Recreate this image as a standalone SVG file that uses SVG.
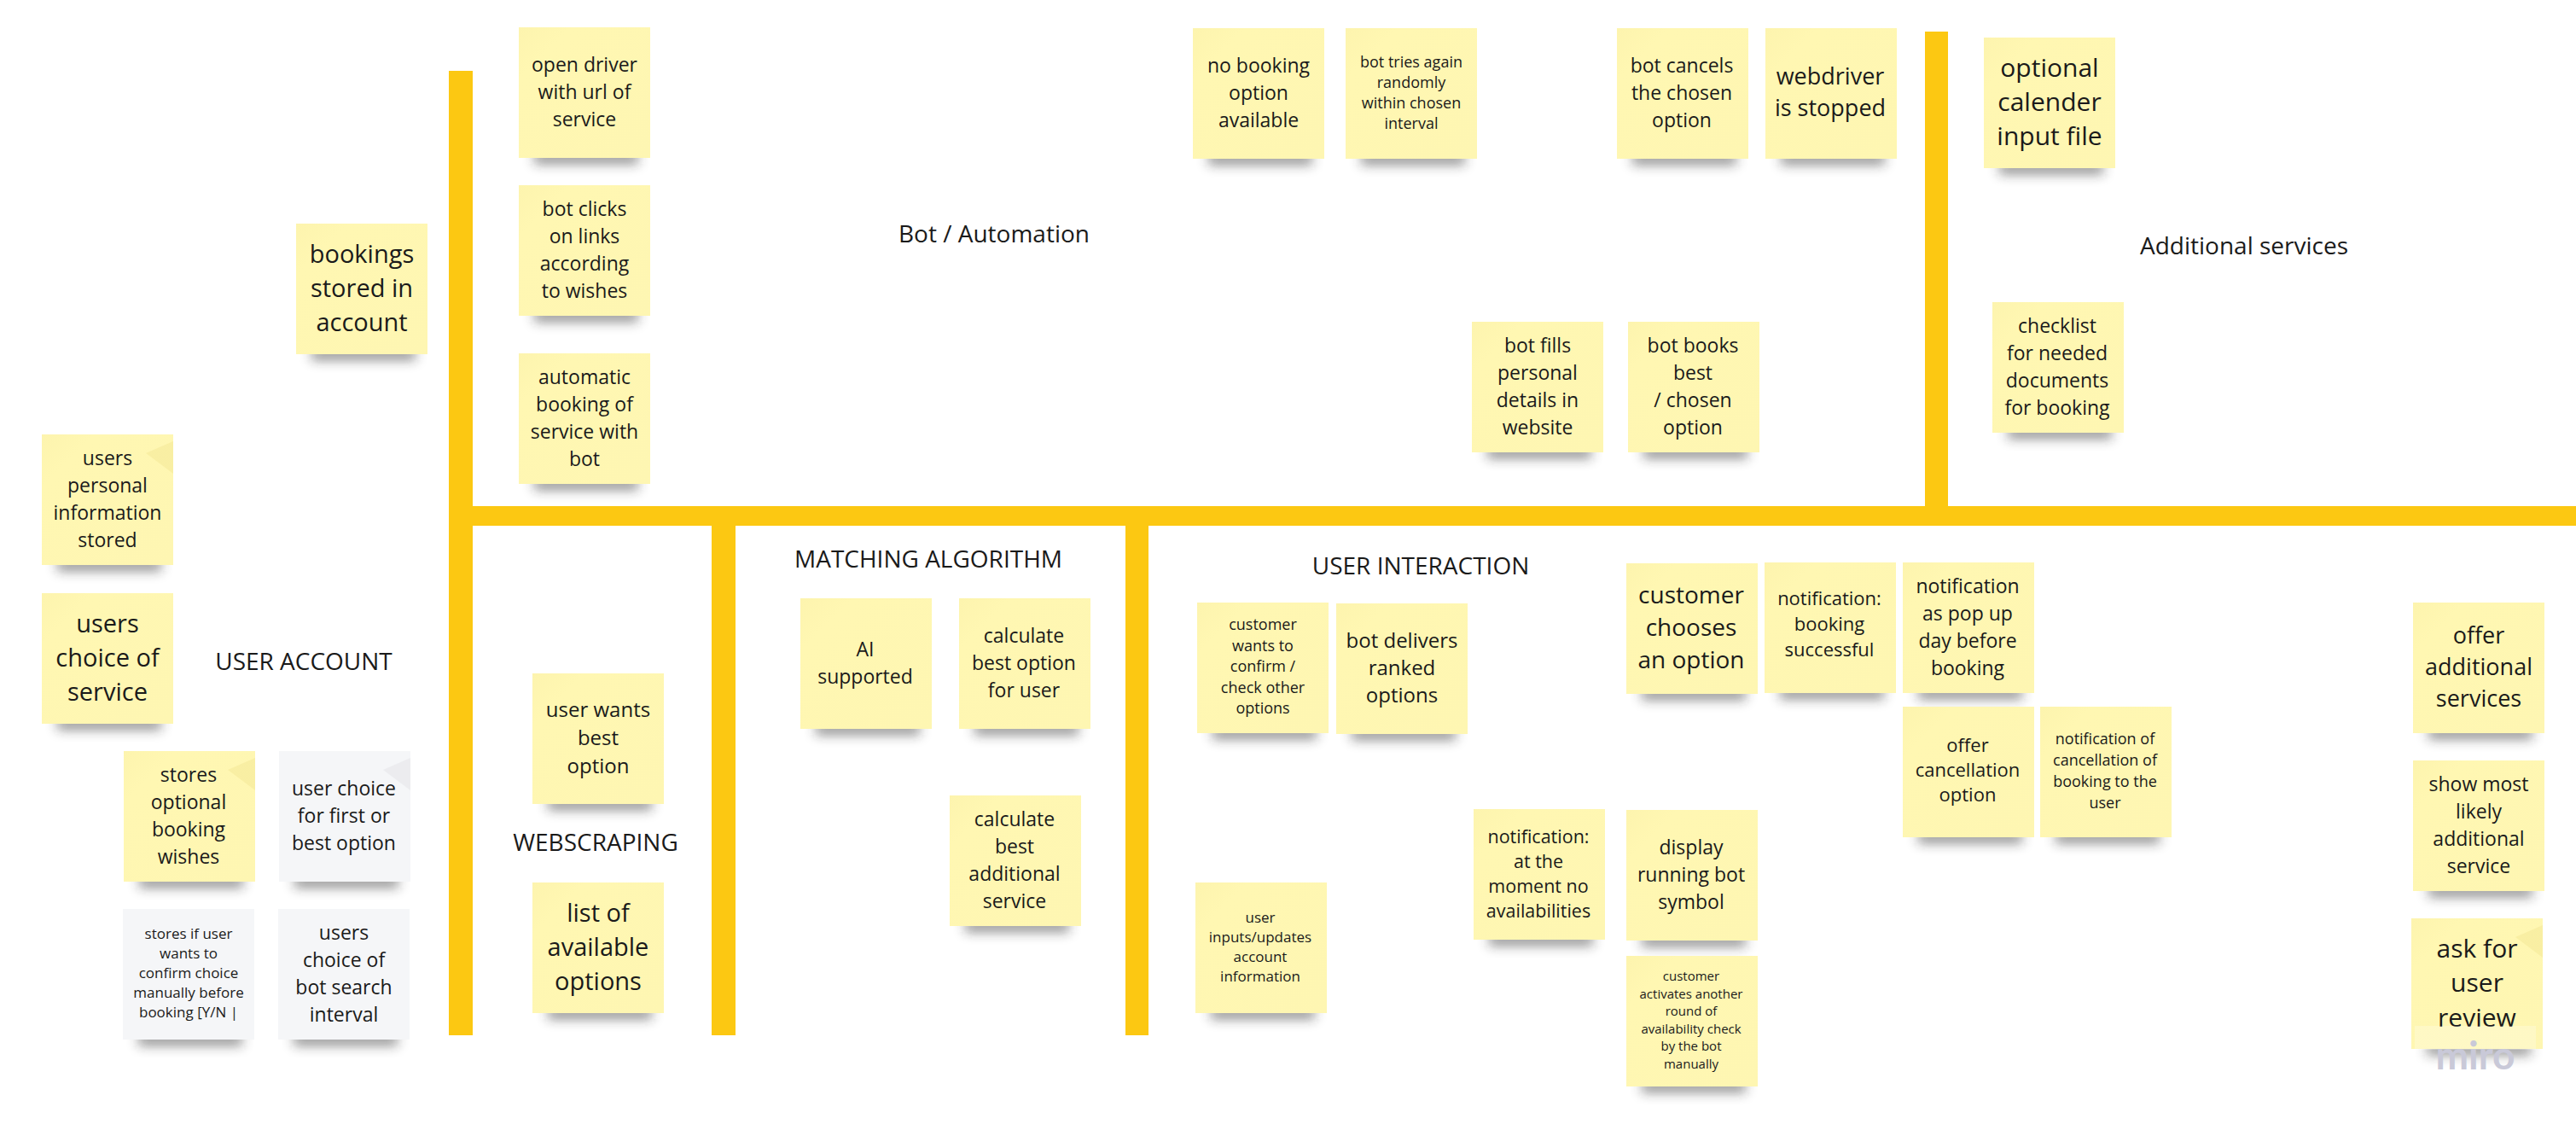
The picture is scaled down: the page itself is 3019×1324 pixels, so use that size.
<svg xmlns="http://www.w3.org/2000/svg" width="3019" height="1324" viewBox="0 0 3019 1324">
<style>
text{font-family:"Open Sans","Noto Sans",sans-serif;fill:#1a1a1a;text-anchor:middle}
g[id^="n"] text{transform:translateY(-1.5px)}
.bar{fill:#fcc812}
.s15{font-size:15px}.s17{font-size:17px}.s18{font-size:18px}.s21{font-size:21.5px}.s22{font-size:22px}.s23{font-size:23px}.s24{font-size:24px}.s27{font-size:27px}.s28{font-size:28px}.s29{font-size:29px}.s30{font-size:30px}
.label{font-size:28px}
</style>
<defs>
<filter id="b" x="-30%" y="-300%" width="160%" height="700%"><feGaussianBlur stdDeviation="7"/></filter>
<linearGradient id="gy" x1="0" y1="0" x2="1" y2="1"><stop offset="0" stop-color="#fdf4ae"/><stop offset=".2" stop-color="#fff7b2"/><stop offset="1" stop-color="#fef6b2"/></linearGradient>
<g id="shadow"><rect x="18" y="146" width="122" height="14" fill="#222" opacity=".5" filter="url(#b)"/></g>
<g id="ny"><use href="#shadow"/><rect width="154" height="153" fill="url(#gy)"/></g>
<g id="ng"><use href="#shadow"/><rect width="154" height="153" fill="#f5f6f8"/></g>
<polygon id="foldy" points="154,8 154,46 122,22" fill="#e8d878" opacity=".25"/>
<polygon id="foldg" points="154,8 154,46 122,22" fill="#c8c8cc" opacity=".2"/>
</defs>
<rect width="3019" height="1324" fill="#fff"/>
<g id="connectors">
<rect class="bar" x="526" y="83" width="28" height="1130"/>
<rect class="bar" x="526" y="593" width="2493" height="23"/>
<rect class="bar" x="2256" y="37" width="27" height="556"/>
<rect class="bar" x="834" y="616" width="28" height="597"/>
<rect class="bar" x="1319" y="616" width="27" height="597"/>
</g>
<g id="titles">
<text class="label" x="356" y="785">USER ACCOUNT</text>
<text class="label" x="1165" y="284">Bot / Automation</text>
<text class="label" x="2630" y="298">Additional services</text>
<text class="label" x="1088" y="665">MATCHING ALGORITHM</text>
<text class="label" x="1665" y="673">USER INTERACTION</text>
<text class="label" x="698" y="997">WEBSCRAPING</text>
</g>
<g id="n1" transform="translate(49,509)"><use href="#ny"/><use href="#foldy"/><text class="s23" x="77"><tspan x="77" y="37.9">users</tspan><tspan x="77" y="69.9">personal</tspan><tspan x="77" y="101.9">information</tspan><tspan x="77" y="133.9">stored</tspan></text></g>
<g id="n2" transform="translate(49,695)"><use href="#ny"/><text class="s29"><tspan x="77" y="47">users</tspan><tspan x="77" y="87">choice of</tspan><tspan x="77" y="127">service</tspan></text></g>
<g id="n3" transform="translate(145,880)"><use href="#ny"/><use href="#foldy"/><text class="s23"><tspan x="76" y="37.9">stores</tspan><tspan x="76" y="69.9">optional</tspan><tspan x="76" y="101.9">booking</tspan><tspan x="76" y="133.9">wishes</tspan></text></g>
<g id="n4" transform="translate(327,880)"><use href="#ng"/><use href="#foldg"/><text class="s23"><tspan x="76" y="53.9">user choice</tspan><tspan x="76" y="85.9">for first or</tspan><tspan x="76" y="117.9">best option</tspan></text></g>
<g id="n5" transform="translate(144,1065)"><use href="#ng"/><text class="s17"><tspan x="77" y="36.5">stores if user</tspan><tspan x="77" y="59.5">wants to</tspan><tspan x="77" y="82.5">confirm choice</tspan><tspan x="77" y="105.5">manually before</tspan><tspan x="77" y="128.5">booking [Y/N |</tspan></text></g>
<g id="n6" transform="translate(326,1065)"><use href="#ng"/><text class="s23"><tspan x="77" y="37.9">users</tspan><tspan x="77" y="69.9">choice of</tspan><tspan x="77" y="101.9">bot search</tspan><tspan x="77" y="133.9">interval</tspan></text></g>
<g id="n7" transform="translate(347,262)"><use href="#ny"/><text class="s29"><tspan x="77" y="47">bookings</tspan><tspan x="77" y="87">stored in</tspan><tspan x="77" y="127">account</tspan></text></g>
<g id="n8" transform="translate(608,32)"><use href="#ny"/><text class="s23"><tspan x="77" y="53.9">open driver</tspan><tspan x="77" y="85.9">with url of</tspan><tspan x="77" y="117.9">service</tspan></text></g>
<g id="n9" transform="translate(608,217)"><use href="#ny"/><text class="s23"><tspan x="77" y="37.9">bot clicks</tspan><tspan x="77" y="69.9">on links</tspan><tspan x="77" y="101.9">according</tspan><tspan x="77" y="133.9">to wishes</tspan></text></g>
<g id="n10" transform="translate(608,414)"><use href="#ny"/><text class="s23"><tspan x="77" y="37.9">automatic</tspan><tspan x="77" y="69.9">booking of</tspan><tspan x="77" y="101.9">service with</tspan><tspan x="77" y="133.9">bot</tspan></text></g>
<g id="n11" transform="translate(1398,33)"><use href="#ny"/><text class="s23"><tspan x="77" y="53.9">no booking</tspan><tspan x="77" y="85.9">option</tspan><tspan x="77" y="117.9">available</tspan></text></g>
<g id="n12" transform="translate(1577,33)"><use href="#ny"/><text class="s18"><tspan x="77" y="47.5">bot tries again</tspan><tspan x="77" y="71.5">randomly</tspan><tspan x="77" y="95.5">within chosen</tspan><tspan x="77" y="119.5">interval</tspan></text></g>
<g id="n13" transform="translate(1895,33)"><use href="#ny"/><text class="s23"><tspan x="76" y="53.9">bot cancels</tspan><tspan x="76" y="85.9">the chosen</tspan><tspan x="76" y="117.9">option</tspan></text></g>
<g id="n14" transform="translate(2069,33)"><use href="#ny"/><text class="s27"><tspan x="76" y="67">webdriver</tspan><tspan x="76" y="104">is stopped</tspan></text></g>
<g id="n15" transform="translate(2325,44)"><use href="#ny"/><text class="s30"><tspan x="77" y="47">optional</tspan><tspan x="77" y="87">calender</tspan><tspan x="77" y="127">input file</tspan></text></g>
<g id="n16" transform="translate(2335,354)"><use href="#ny"/><text class="s23"><tspan x="76" y="37.9">checklist</tspan><tspan x="76" y="69.9">for needed</tspan><tspan x="76" y="101.9">documents</tspan><tspan x="76" y="133.9">for booking</tspan></text></g>
<g id="n17" transform="translate(1725,377)"><use href="#ny"/><text class="s23"><tspan x="77" y="37.9">bot fills</tspan><tspan x="77" y="69.9">personal</tspan><tspan x="77" y="101.9">details in</tspan><tspan x="77" y="133.9">website</tspan></text></g>
<g id="n18" transform="translate(1908,377)"><use href="#ny"/><text class="s23"><tspan x="76" y="37.9">bot books</tspan><tspan x="76" y="69.9">best</tspan><tspan x="76" y="101.9">/ chosen</tspan><tspan x="76" y="133.9">option</tspan></text></g>
<g id="n19" transform="translate(624,789)"><use href="#ny"/><text class="s24"><tspan x="77" y="52">user wants</tspan><tspan x="77" y="85">best</tspan><tspan x="77" y="118">option</tspan></text></g>
<g id="n20" transform="translate(624,1034)"><use href="#ny"/><text class="s29"><tspan x="77" y="47">list of</tspan><tspan x="77" y="87">available</tspan><tspan x="77" y="127">options</tspan></text></g>
<g id="n21" transform="translate(938,701)"><use href="#ny"/><text class="s23"><tspan x="76" y="69">AI</tspan><tspan x="76" y="101">supported</tspan></text></g>
<g id="n22" transform="translate(1124,701)"><use href="#ny"/><text class="s23"><tspan x="76" y="53.9">calculate</tspan><tspan x="76" y="85.9">best option</tspan><tspan x="76" y="117.9">for user</tspan></text></g>
<g id="n23" transform="translate(1113,932)"><use href="#ny"/><text class="s23"><tspan x="76" y="37.9">calculate</tspan><tspan x="76" y="69.9">best</tspan><tspan x="76" y="101.9">additional</tspan><tspan x="76" y="133.9">service</tspan></text></g>
<g id="n24" transform="translate(1403,706)"><use href="#ny"/><text class="s18"><tspan x="77" y="33.8">customer</tspan><tspan x="77" y="58.3">wants to</tspan><tspan x="77" y="82.8">confirm /</tspan><tspan x="77" y="107.3">check other</tspan><tspan x="77" y="131.8">options</tspan></text></g>
<g id="n25" transform="translate(1566,707)"><use href="#ny"/><text class="s24"><tspan x="77" y="53.9">bot delivers</tspan><tspan x="77" y="85.9">ranked</tspan><tspan x="77" y="117.9">options</tspan></text></g>
<g id="n26" transform="translate(1906,660)"><use href="#ny"/><text class="s28"><tspan x="76" y="48">customer</tspan><tspan x="76" y="86">chooses</tspan><tspan x="76" y="124">an option</tspan></text></g>
<g id="n27" transform="translate(2068,659)"><use href="#ny"/><text class="s22"><tspan x="76" y="51">notification:</tspan><tspan x="76" y="81">booking</tspan><tspan x="76" y="111">successful</tspan></text></g>
<g id="n28" transform="translate(2230,659)"><use href="#ny"/><text class="s23"><tspan x="76" y="37.9">notification</tspan><tspan x="76" y="69.9">as pop up</tspan><tspan x="76" y="101.9">day before</tspan><tspan x="76" y="133.9">booking</tspan></text></g>
<g id="n29" transform="translate(2230,828)"><use href="#ny"/><text class="s22"><tspan x="76" y="54">offer</tspan><tspan x="76" y="83">cancellation</tspan><tspan x="76" y="112">option</tspan></text></g>
<g id="n30" transform="translate(2391,828)"><use href="#ny"/><text class="s18"><tspan x="76" y="45.3">notification of</tspan><tspan x="76" y="70.3">cancellation of</tspan><tspan x="76" y="95.3">booking to the</tspan><tspan x="76" y="120.3">user</tspan></text></g>
<g id="n31" transform="translate(1727,948)"><use href="#ny"/><text class="s21"><tspan x="76" y="41">notification:</tspan><tspan x="76" y="70">at the</tspan><tspan x="76" y="99">moment no</tspan><tspan x="76" y="128">availabilities</tspan></text></g>
<g id="n32" transform="translate(1906,949)"><use href="#ny"/><text class="s23"><tspan x="76" y="53.9">display</tspan><tspan x="76" y="85.9">running bot</tspan><tspan x="76" y="117.9">symbol</tspan></text></g>
<g id="n33" transform="translate(1906,1120)"><use href="#ny"/><text class="s15"><tspan x="76" y="30.5">customer</tspan><tspan x="76" y="51">activates another</tspan><tspan x="76" y="71.5">round of</tspan><tspan x="76" y="92">availability check</tspan><tspan x="76" y="112.5">by the bot</tspan><tspan x="76" y="133">manually</tspan></text></g>
<g id="n34" transform="translate(1401,1034)"><use href="#ny"/><text class="s17"><tspan x="76" y="48">user</tspan><tspan x="76" y="71">inputs/updates</tspan><tspan x="76" y="94">account</tspan><tspan x="76" y="117">information</tspan></text></g>
<g id="n35" transform="translate(2828,706)"><use href="#ny"/><text class="s27"><tspan x="77" y="49">offer</tspan><tspan x="77" y="86">additional</tspan><tspan x="77" y="123">services</tspan></text></g>
<g id="n36" transform="translate(2828,891)"><use href="#ny"/><text class="s23"><tspan x="77" y="37.9">show most</tspan><tspan x="77" y="69.9">likely</tspan><tspan x="77" y="101.9">additional</tspan><tspan x="77" y="133.9">service</tspan></text></g>
<g id="n37" transform="translate(2826,1076)"><use href="#ny"/><use href="#foldy"/><text class="s30"><tspan x="77" y="47">ask for</tspan><tspan x="77" y="87">user</tspan><tspan x="77" y="128">review</tspan></text></g>
<g id="watermark"><rect x="2830" y="1202" width="142" height="28" fill="#fff" opacity=".25"/><text x="2901" y="1253" style="font-family:Lato,sans-serif;font-weight:700;font-size:46px;fill:#c9c9d8">miro</text></g>
</svg>
